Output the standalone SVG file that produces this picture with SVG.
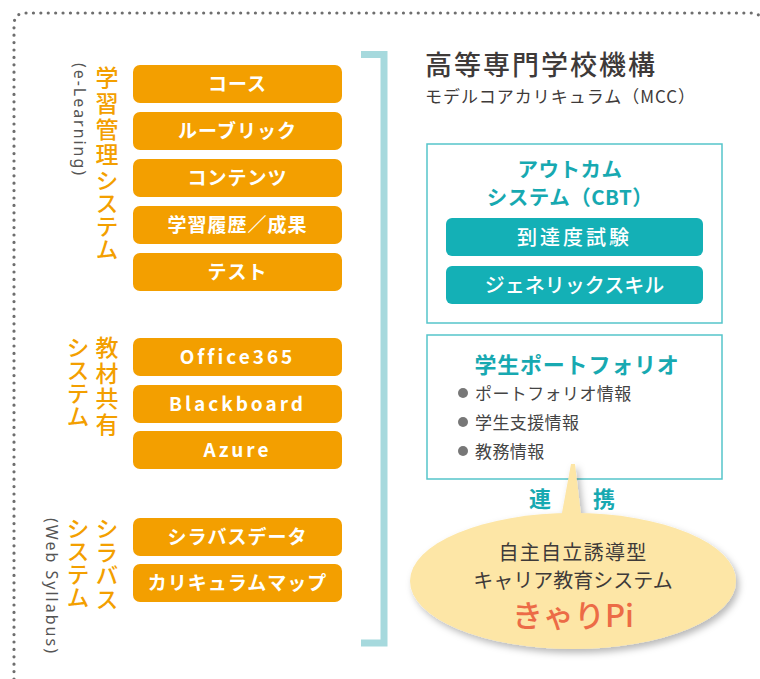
<svg xmlns="http://www.w3.org/2000/svg" width="760" height="679" viewBox="0 0 760 679">
<defs>
<style>
.jp{font-family:"Noto Sans CJK JP","Noto Sans",sans-serif}
.ob{fill:#f39f00}
.obt{fill:#fff;font-size:19px;font-weight:bold;text-anchor:middle;letter-spacing:1px}
.obl{letter-spacing:3px}
.vt{fill:#f39f00;font-size:23px;font-weight:500;writing-mode:vertical-rl}
.vl{fill:#555;font-size:16px;font-family:"Noto Sans","DejaVu Sans",sans-serif}
.tb{fill:#fff;stroke:#55c5ca;stroke-width:1.5}
.tbtn{fill:#14b0b6}
.tbt{fill:#fff;font-size:20px;font-weight:500;text-anchor:middle}
.tt{fill:#17a9b1;font-weight:bold;text-anchor:middle}
.gt{fill:#444;font-size:17px}
</style>
<filter id="sh" x="-20%" y="-20%" width="140%" height="150%">
<feDropShadow dx="3" dy="4" stdDeviation="3.5" flood-color="#000" flood-opacity="0.28"/>
</filter>
</defs>
<rect width="760" height="679" fill="#fff"/>
<path d="M14,679 V25 Q14,13 26,13 H752 Q758,13 760,17" fill="none" stroke="#6e6e6e" stroke-width="3.2" stroke-linecap="round" stroke-dasharray="0 7.4"/>

<g id="lms-label" class="jp">
<text class="vt" x="107" y="66"><tspan letter-spacing="2.7">学習管理</tspan><tspan letter-spacing="0">システム</tspan></text>
<text class="vl" transform="translate(74,63) rotate(90)" textLength="112" lengthAdjust="spacing">(e-Learning)</text>
</g>
<g id="share-label" class="jp">
<text class="vt" x="107" y="336" letter-spacing="2.6">教材共有</text>
<text class="vt" x="78" y="336" letter-spacing="0">システム</text>
</g>
<g id="syllabus-label" class="jp">
<text class="vt" x="107" y="517" letter-spacing="0.5">シラバス</text>
<text class="vt" x="78" y="517" letter-spacing="0">システム</text>
<text class="vl" transform="translate(46,518) rotate(90)" textLength="135" lengthAdjust="spacing">(Web Syllabus)</text>
</g>

<g id="n-course" class="jp"><rect class="ob" x="133" y="65" width="209" height="38" rx="7"/><text class="obt" x="237.5" y="91">コース</text></g>
<g id="n-rubric" class="jp"><rect class="ob" x="133" y="112" width="209" height="38" rx="7"/><text class="obt" x="237.5" y="138">ルーブリック</text></g>
<g id="n-contents" class="jp"><rect class="ob" x="133" y="159" width="209" height="38" rx="7"/><text class="obt" x="237.5" y="185">コンテンツ</text></g>
<g id="n-history" class="jp"><rect class="ob" x="133" y="206" width="209" height="38" rx="7"/><text class="obt" x="237.5" y="232">学習履歴／成果</text></g>
<g id="n-test" class="jp"><rect class="ob" x="133" y="253" width="209" height="38" rx="7"/><text class="obt" x="237.5" y="279">テスト</text></g>
<g id="n-office" class="jp"><rect class="ob" x="133" y="338" width="209" height="38" rx="7"/><text class="obt obl" x="237.5" y="364">Office365</text></g>
<g id="n-blackboard" class="jp"><rect class="ob" x="133" y="385" width="209" height="38" rx="7"/><text class="obt obl" x="237.5" y="411">Blackboard</text></g>
<g id="n-azure" class="jp"><rect class="ob" x="133" y="431" width="209" height="38" rx="7"/><text class="obt obl" x="237.5" y="457">Azure</text></g>
<g id="n-syllabusdata" class="jp"><rect class="ob" x="133" y="518" width="209" height="38" rx="7"/><text class="obt" x="237.5" y="544">シラバスデータ</text></g>
<g id="n-curriculummap" class="jp"><rect class="ob" x="133" y="564" width="209" height="38" rx="7"/><text class="obt" x="237.5" y="590">カリキュラムマップ</text></g>

<g id="connectors">
<path d="M361,54.5 H384 V643 H361" fill="none" stroke="#a6d9dd" stroke-width="7"/>
</g>

<g id="mcc" class="jp">
<text x="425" y="75" fill="#3e3a39" font-size="27" font-weight="500" letter-spacing="2">高等専門学校機構</text>
<text x="425" y="103" fill="#3e3a39" font-size="17" letter-spacing="1">モデルコアカリキュラム（MCC）</text>
</g>

<g id="outcome" class="jp">
<rect class="tb" x="427" y="144" width="295" height="179"/>
<text class="tt" x="570" y="177" font-size="20.5" font-weight="500" letter-spacing="0.5">アウトカム</text>
<text class="tt" x="570" y="205" font-size="20.5" font-weight="500" letter-spacing="0.5">システム（CBT）</text>
</g>
<g id="n-exam" class="jp"><rect class="tbtn" x="446" y="218" width="257" height="38" rx="6"/><text class="tbt" x="574.5" y="245" letter-spacing="3">到達度試験</text></g>
<g id="n-generic" class="jp"><rect class="tbtn" x="446" y="266" width="257" height="38" rx="6"/><text class="tbt" x="574.5" y="293" letter-spacing="0">ジェネリックスキル</text></g>

<g id="portfolio" class="jp">
<rect class="tb" x="427" y="335" width="295" height="144"/>
<text class="tt" x="577" y="373" font-size="22" letter-spacing="0.8">学生ポートフォリオ</text>
<circle cx="463" cy="393" r="5" fill="#777"/>
<circle cx="463" cy="422" r="5" fill="#777"/>
<circle cx="463" cy="451" r="5" fill="#777"/>
<text class="gt" x="475" y="400" letter-spacing="0.4">ポートフォリオ情報</text>
<text class="gt" x="475" y="429" letter-spacing="0.4">学生支援情報</text>
<text class="gt" x="475" y="458" letter-spacing="0.4">教務情報</text>
</g>

<g id="careerpi" class="jp">
<g filter="url(#sh)">
<polygon points="571,464 575,464 584,540 557,540" fill="#fde6a6"/>
<ellipse cx="573" cy="581" rx="163" ry="68" fill="#fde6a6"/>
</g>
<text x="573" y="560" fill="#3e3a39" font-size="20" text-anchor="middle" letter-spacing="1.3">自主自立誘導型</text>
<text x="573" y="588" fill="#3e3a39" font-size="20" text-anchor="middle" letter-spacing="0">キャリア教育システム</text>
<text x="573" y="627" fill="#ec6b46" font-size="31" font-weight="500" text-anchor="middle">きゃりPi</text>
</g>
<g id="link-label" class="jp">
<text class="tt" x="540" y="507" font-size="22">連</text>
<text class="tt" x="604" y="507" font-size="22">携</text>
</g>
</svg>
